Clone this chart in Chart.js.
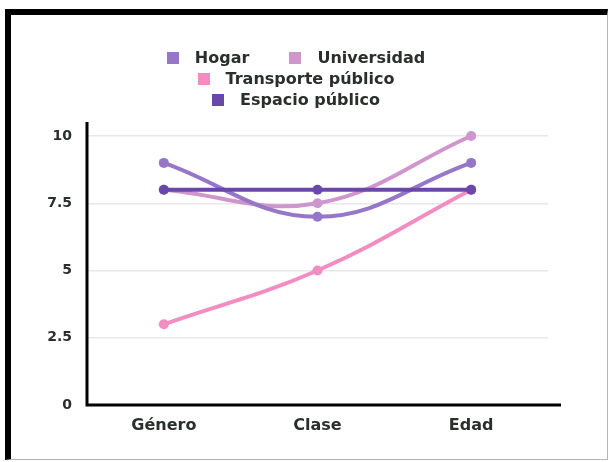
<!DOCTYPE html>
<html>
<head>
<meta charset="utf-8">
<script src="https://cdn.jsdelivr.net/npm/chart.js@4/dist/chart.umd.min.js"></script>
<style>
  html, body { margin: 0; padding: 0; background: #fff; }
  body { width: 609px; height: 462px; position: relative; overflow: hidden; font-family: "DejaVu Sans", sans-serif; }
  #frame {
    position: absolute; left: 5px; top: 9px; width: 596px; height: 444px;
    border-top: 6px solid #000; border-left: 6px solid #000;
    border-right: 1px solid #b5b5b5; border-bottom: 1px solid #b5b5b5;
  }
  #chartWrap { position: absolute; left: 0; top: 0; width: 609px; height: 462px; }
  #legend { position: absolute; left: 96px; top: 47px; width: 400px; text-align: center; }
  .row { height: 21px; line-height: 21px; white-space: nowrap; }
  .item { display: inline-block; margin: 0 20px; font-weight: bold; font-size: 16px; color: #2b2f2b; }
  .box { display: inline-block; width: 12px; height: 12px; margin-right: 16px; vertical-align: -1px; }
</style>
</head>
<body>
<div id="frame"></div>
<div id="chartWrap"><canvas id="lineChart" width="609" height="462"></canvas></div>
<div id="legend"></div>
<script>
// chart data
const categories = ["Género", "Clase", "Edad"];
const hogar = [9, 7, 9];
const universidad = [8, 7.5, 10];
const transporte = [3, 5, 8];
const espacio = [8, 8, 8];
const yTicks = [0, 2.5, 5, 7.5, 10];
const legendRows = [[0, 1], [2], [3]];

const seriesColors = ["#9676c6", "#cf95cd", "#f28dc1", "#6a48aa"];

function makeSet(label, data, color, order) {
  return {
    label: label,
    data: data,
    borderColor: color,
    backgroundColor: color,
    borderWidth: 4,
    pointRadius: 5,
    pointHoverRadius: 5,
    pointBorderWidth: 0,
    tension: 0.4,
    clip: false,
    order: order
  };
}

// axis lines stick out a bit past the plot area, like the original
const axisLines = {
  id: "axisLines",
  afterDatasetsDraw(chart) {
    const a = chart.chartArea;
    const ctx = chart.ctx;
    ctx.save();
    ctx.strokeStyle = "#000";
    ctx.lineWidth = 3;
    ctx.beginPath();
    ctx.moveTo(a.left, a.top - 14);
    ctx.lineTo(a.left, a.bottom);
    ctx.lineTo(a.right + 13, a.bottom);
    ctx.stroke();
    ctx.restore();
  }
};

const tickFont = { family: "DejaVu Sans", weight: "bold" };

const lineChart = new Chart(document.getElementById("lineChart").getContext("2d"), {
  type: "line",
  data: {
    labels: categories,
    datasets: [
      makeSet("Hogar", hogar, seriesColors[0], 2),
      makeSet("Universidad", universidad, seriesColors[1], 3),
      makeSet("Transporte público", transporte, seriesColors[2], 4),
      makeSet("Espacio público", espacio, seriesColors[3], 1)
    ]
  },
  options: {
    responsive: false,
    animation: false,
    layout: { padding: { top: 136, right: 61, bottom: 0, left: 0 } },
    plugins: { legend: { display: false }, tooltip: { enabled: false } },
    scales: {
      x: {
        offset: true,
        grid: { display: false, drawTicks: false },
        border: { display: false },
        ticks: { padding: 11, color: "#2b2f2b", font: Object.assign({ size: 16 }, tickFont) },
        afterFit(scale) { scale.height = 57; }
      },
      y: {
        min: 0,
        max: 10,
        afterBuildTicks(scale) { scale.ticks = yTicks.map(v => ({ value: v })); },
        grid: { color: "#e8e8e8", lineWidth: 1.5, drawTicks: false },
        border: { display: false },
        ticks: { padding: 15, color: "#2b2f2b", font: Object.assign({ size: 14 }, tickFont) },
        afterFit(scale) { scale.width = 87; }
      }
    }
  },
  plugins: [axisLines]
});

// html legend, wrapped into rows like the original
const legendEl = document.getElementById("legend");
legendRows.forEach(idxs => {
  const row = document.createElement("div");
  row.className = "row";
  idxs.forEach(i => {
    const ds = lineChart.data.datasets[i];
    const item = document.createElement("span");
    item.className = "item";
    const box = document.createElement("span");
    box.className = "box";
    box.style.background = ds.borderColor;
    item.appendChild(box);
    item.appendChild(document.createTextNode(ds.label));
    row.appendChild(item);
  });
  legendEl.appendChild(row);
});
</script>
</body>
</html>
